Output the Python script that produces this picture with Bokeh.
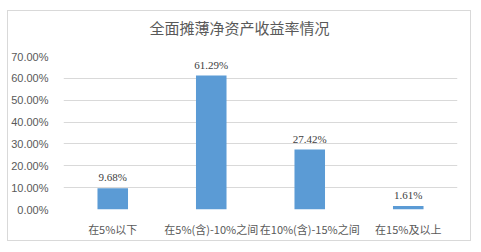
from bokeh.plotting import figure
from bokeh.models import FactorRange, Range1d, NumeralTickFormatter, ColumnDataSource, LabelSet, Title
from bokeh.embed import file_html
from bokeh.resources import INLINE

categories = ["在5%以下", "在5%(含)-10%之间", "在10%(含)-15%之间", "在15%及以上"]
values = [0.0968, 0.6129, 0.2742, 0.0161]
value_labels = ["9.68%", "61.29%", "27.42%", "1.61%"]
title_text = "全面摊薄净资产收益率情况"

W, H = 462, 229
p = figure(width=W, height=H, output_backend="svg", toolbar_location=None,
           x_range=FactorRange(*categories, range_padding=0), y_range=Range1d(0, 0.7),
           min_border_left=54, min_border_right=13, min_border_top=45, min_border_bottom=31,
           title=None, margin=(11, 0, 0, 8))
p.styles = {"outline": "1px solid #d9d9d9"}
p.outline_line_color = None
p.background_fill_color = "white"
p.border_fill_color = "white"

# spacer panel between frame and title
p.add_layout(Title(text=" ", text_font_size="1px", standoff=16, text_color="white"), "above")
p.add_layout(Title(text=title_text, align="left", offset=86, text_font="Noto Sans CJK SC",
                   text_font_size="15px", text_font_style="normal", text_color="#595959",
                   standoff=0), "above")

src = ColumnDataSource(dict(x=categories, top=values, lab=value_labels))
p.vbar(x="x", top="top", width=0.31, source=src, fill_color="#5b9bd5", line_color=None)

labels = LabelSet(x="x", y="top", text="lab", source=src, text_align="center", text_baseline="bottom",
                  y_offset=5, text_font_size="11px", text_color="#404040", text_font="Liberation Sans")
p.add_layout(labels)

p.yaxis.formatter = NumeralTickFormatter(format="0.00%")
p.yaxis.ticker = [0, 0.1, 0.2, 0.3, 0.4, 0.5, 0.6, 0.7]
p.yaxis.axis_line_color = None
p.yaxis.major_tick_line_color = None
p.yaxis.minor_tick_line_color = None
p.yaxis.major_label_text_font_size = "11px"
p.yaxis.major_label_text_color = "#595959"
p.yaxis.major_label_text_font = "Liberation Sans"
p.yaxis.major_label_standoff = 9

p.xaxis.axis_line_color = None
p.xaxis.major_tick_line_color = None
p.xaxis.major_label_text_font_size = "11px"
p.xaxis.major_label_text_color = "#595959"
p.xaxis.major_label_text_font = "Noto Sans CJK SC"
p.xaxis.major_label_standoff = 5

p.xgrid.grid_line_color = None
p.ygrid.grid_line_color = "#d9d9d9"

open("out.html", "w").write(file_html(p, INLINE))
